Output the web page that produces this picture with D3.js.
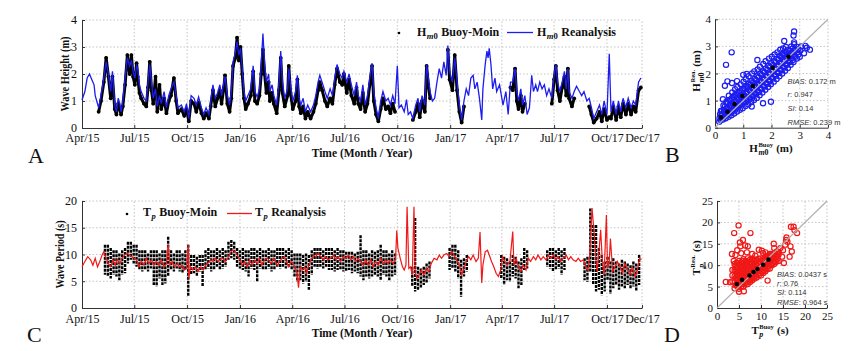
<!DOCTYPE html>
<meta charset="utf-8">
<script src="https://d3js.org/d3.v7.min.js"></script>
<style>
  body { margin: 0; background: #fff; }
  text { font-family: "Liberation Serif", "Times New Roman", serif; fill: #111; }
</style>
<div id="chart"></div>
<script>
// ---- data (days since 1 Apr 2015) ----
var monthTicks = ["2015-04","2015-07","2015-10","2016-01","2016-04","2016-07","2016-10","2017-01","2017-04","2017-07","2017-10","2017-12"];

// Hm0 reanalysis [day, m]
var hRea = [[0,1.04],[5,1.35],[9,1.85],[13,2.0],[17,1.8],[21,1.6],[23,1.2],[27,0.9],[29,0.75],[33,1.2],[38,1.85],[42,2.45],[46,2.0],[50,1.35],[53,2.1],[57,0.85],[60,0.6],[63,1.1],[66,0.9],[68,0.6],[71,1.0],[75,1.85],[79,2.6],[83,2.3],[86,2.5],[89,2.1],[92,1.85],[95,2.3],[97,2.2],[100,1.6],[103,1.35],[108,1.1],[112,1.0],[115,1.7],[118,2.35],[121,1.7],[124,1.1],[128,1.45],[131,0.8],[135,1.2],[138,0.9],[143,1.35],[147,0.75],[151,1.2],[155,1.45],[160,1.7],[164,1.2],[167,0.75],[173,0.85],[178,0.6],[182,0.9],[186,0.35],[190,1.2],[195,1.1],[199,0.85],[203,1.15],[208,0.75],[212,0.5],[216,0.75],[221,0.5],[224,1.0],[228,1.6],[232,1.1],[236,1.3],[240,1.6],[243,1.2],[247,1.7],[249,1.9],[253,1.2],[257,0.85],[260,1.35],[263,2.45],[267,2.8],[270,3.2],[273,2.7],[276,2.95],[279,2.2],[282,1.35],[285,1.0],[289,1.2],[294,1.45],[298,2.3],[301,1.35],[305,1.15],[309,1.45],[312,2.35],[315,3.5],[318,2.35],[321,1.7],[325,2.0],[327,1.35],[331,1.6],[334,1.2],[339,0.85],[343,1.7],[346,2.85],[349,1.7],[353,1.1],[358,1.45],[360,2.2],[363,1.6],[367,1.0],[372,1.35],[375,1.95],[378,1.1],[381,0.85],[385,1.1],[389,0.6],[393,0.85],[398,0.6],[403,0.85],[407,1.2],[411,1.7],[414,1.95],[418,1.7],[423,1.35],[427,1.1],[432,1.45],[436,1.2],[440,1.85],[444,2.35],[449,2.0],[453,1.85],[456,2.1],[461,1.7],[465,2.0],[469,1.6],[474,1.2],[478,1.7],[481,1.2],[485,1.0],[489,1.6],[493,0.85],[497,1.2],[501,1.85],[505,2.4],[508,1.35],[512,0.75],[516,0.35],[520,1.0],[524,1.35],[529,1.0],[533,1.1],[537,0.85],[541,1.2],[545,0.9],[549,2.3],[552,0.75],[556,0.85],[561,0.6],[565,1.05],[568,0.5],[572,0.6],[576,0.35],[581,0.85],[585,1.1],[588,0.6],[592,1.2],[597,0.85],[600,2.35],[603,1.85],[606,1.35],[610,1.0],[614,1.1],[618,1.7],[622,2.2],[626,1.85],[630,2.45],[634,1.95],[637,3.05],[640,2.1],[645,1.7],[649,2.6],[653,1.7],[657,0.85],[661,0.3],[665,1.0],[669,1.45],[673,1.2],[677,1.85],[681,1.95],[684,1.45],[688,1.7],[692,1.1],[696,0.3],[698,1.45],[702,2.35],[705,2.85],[707,2.6],[709,2.95],[712,2.35],[715,1.45],[719,1.85],[722,1.35],[727,1.6],[731,1.1],[733,0.85],[738,1.35],[742,0.5],[746,1.7],[750,1.7],[754,2.2],[757,1.35],[760,1.0],[764,1.45],[767,0.85],[771,1.2],[775,0.5],[779,0.75],[783,1.95],[786,1.35],[790,1.6],[793,1.35],[797,1.7],[801,1.45],[805,1.6],[809,1.2],[813,1.45],[818,1.1],[822,1.95],[825,2.35],[828,1.7],[832,1.35],[836,1.7],[840,2.1],[843,1.45],[846,2.2],[848,1.35],[853,1.1],[857,1.35],[861,1.55],[866,1.35],[870,1.2],[874,1.35],[879,1.0],[883,1.1],[887,0.75],[891,0.35],[896,0.6],[901,0.85],[905,0.5],[909,1.0],[914,0.5],[918,2.75],[921,0.6],[925,1.0],[930,0.5],[934,1.0],[938,0.6],[942,1.1],[947,0.75],[951,1.1],[956,0.75],[960,1.0],[964,0.85],[969,1.7],[973,1.85]];

// Hm0 buoy [day, m]
var hBuoy = [[29,0.6],[33,1.0],[38,1.7],[42,2.6],[46,1.9],[50,1.1],[53,1.9],[57,0.7],[60,0.5],[63,0.9],[66,0.7],[68,0.5],[71,0.8],[75,1.6],[79,2.7],[83,2.0],[86,2.7],[89,1.9],[92,1.6],[95,2.4],[97,1.9],[100,1.3],[103,1.1],[108,0.9],[112,0.8],[115,1.5],[118,2.45],[121,1.4],[124,0.9],[128,1.9],[131,0.6],[135,1.6],[138,0.7],[143,1.1],[147,0.55],[151,1.0],[155,1.2],[160,1.85],[164,1.0],[167,0.55],[173,0.7],[178,0.45],[182,0.7],[186,0.25],[190,1.0],[195,0.9],[199,0.6],[203,0.95],[208,0.55],[212,0.35],[216,0.55],[221,0.35],[224,0.8],[228,1.4],[232,0.8],[236,1.1],[240,1.4],[243,0.9],[247,1.5],[249,1.95],[253,0.9],[257,0.6],[260,1.1],[263,2.3],[267,2.6],[270,3.35],[273,2.5],[276,3.0],[279,2.0],[282,1.1],[285,0.7],[289,0.9],[294,1.2],[298,2.1],[301,1.0],[305,0.9],[309,1.2],[312,2.0],[315,2.9],[318,2.0],[321,1.3],[325,1.7],[327,1.0],[331,1.3],[334,0.9],[339,0.55],[343,1.4],[346,2.6],[349,1.3],[353,0.8],[358,1.2],[360,2.3],[363,1.3],[367,0.7],[372,1.0],[375,1.8],[378,0.8],[381,0.55],[385,0.8],[389,0.35],[393,0.6],[398,0.35],[403,0.6],[407,0.9],[411,1.4],[414,1.7],[418,1.4],[423,1.0],[427,0.8],[432,1.1],[436,0.9],[440,1.6],[444,2.2],[449,1.7],[453,1.6],[456,2.0],[461,1.3],[465,1.8],[469,1.2],[474,0.9],[478,1.5],[481,0.9],[485,0.7],[489,1.3],[493,0.6],[497,0.9],[501,1.6],[505,2.3],[508,1.0],[512,0.5],[516,0.25],[520,0.7],[524,1.1],[529,0.7],[533,0.8],[537,0.55],[541,0.9],[545,0.6],
  [576,0.3],[581,0.6],[585,0.9],[588,0.4],[592,1.0],[597,0.6],[600,2.3],[603,1.6],[606,1.1],
  [637,2.9],[640,1.8],[645,1.4],[649,2.7],[653,1.4],[657,0.6],[661,0.2],[665,0.8],
  [746,1.5],[750,1.4],[754,2.2],[757,1.0],[760,0.7],[764,1.2],[767,0.6],[771,0.9],
  [818,0.9],[822,1.8],[825,2.3],[828,1.4],[832,1.0],[836,1.5],[840,1.9],[843,1.2],[846,2.2],[848,1.1],[853,0.8],[857,1.1],
  [883,0.8],[887,0.5],[891,0.2],[896,0.35],[901,0.6],[905,0.25],[909,0.7],[914,0.3],[918,0.4],[921,0.35],[925,0.8],[930,0.3],[934,0.8],[938,0.4],[942,0.9],[947,0.5],[951,0.9],[956,0.5],[960,0.8],[964,0.6],[969,1.4],[973,1.5]];

// Tp reanalysis [day, s]
var tpRea = [[0,7.7],[5,8.7],[10,9.6],[15,9.0],[19,8.0],[23,9.3],[27,7.7],[31,8.7],[35,9.9],[38,10.5],[42,9.3],[46,8.3],[50,7.7],[54,9.0],[58,8.0],[61,9.0],[66,8.3],[70,9.3],[74,9.9],[79,10.2],[83,9.9],[87,9.6],[91,9.3],[95,9.0],[99,7.7],[103,8.7],[108,8.0],[112,9.3],[116,8.3],[121,9.0],[125,8.0],[129,8.7],[134,8.0],[138,9.0],[143,7.7],[147,8.3],[150,11.9],[153,8.0],[157,8.7],[161,7.7],[166,8.3],[170,7.7],[174,8.0],[178,7.1],[182,7.4],[185,11.8],[186,5.5],[189,7.7],[193,7.1],[197,7.7],[202,6.8],[207,7.7],[211,7.1],[215,8.0],[219,8.3],[224,9.0],[228,8.7],[232,9.3],[237,8.7],[241,9.0],[245,9.3],[249,8.7],[254,9.3],[259,10.5],[263,10.8],[267,10.5],[270,9.9],[275,9.0],[279,8.0],[283,8.7],[288,7.7],[292,9.0],[296,8.0],[301,9.0],[305,8.3],[309,9.3],[313,8.0],[318,9.0],[323,9.3],[329,8.3],[334,9.3],[340,8.0],[346,9.0],[352,9.6],[356,8.7],[360,7.7],[364,8.7],[369,8.0],[374,6.8],[377,3.8],[380,7.7],[384,7.1],[388,7.7],[391,6.5],[395,8.0],[399,9.0],[403,9.9],[407,9.6],[411,10.2],[416,9.6],[420,9.0],[424,9.6],[428,9.0],[433,9.3],[438,9.9],[442,9.0],[446,9.6],[450,8.7],[455,9.6],[459,9.3],[464,9.9],[468,9.0],[472,9.6],[477,8.7],[481,9.3],[485,8.7],[490,8.0],[494,9.0],[498,8.0],[503,9.0],[507,7.7],[511,8.7],[516,8.0],[520,9.3],[525,8.3],[529,9.0],[533,8.3],[537,9.0],[542,8.3],[546,9.3],[548,14.5],[550,11.2],[554,9.3],[558,7.7],[561,7.1],[564,8.0],[566,18.9],[569,7.4],[572,7.7],[575,6.2],[578,18.9],[580,6.8],[583,5.5],[587,6.2],[591,7.1],[595,6.2],[600,7.4],[604,6.8],[608,8.3],[613,9.3],[618,9.0],[622,9.9],[626,9.3],[630,9.9],[635,10.2],[639,9.6],[643,10.5],[646,10.2],[652,9.0],[657,8.0],[661,6.2],[665,7.4],[669,8.7],[673,9.6],[677,9.0],[681,9.9],[686,8.7],[690,9.3],[693,14.2],[696,4.7],[698,8.0],[702,10.5],[706,10.8],[709,9.9],[713,8.7],[717,7.7],[721,6.5],[725,5.9],[729,7.1],[732,9.6],[736,8.7],[740,8.0],[745,8.7],[750,14.3],[752,8.0],[756,9.3],[760,7.7],[764,6.8],[768,8.0],[773,7.1],[777,9.3],[781,8.7],[786,9.6],[790,9.0],[794,9.9],[799,9.0],[803,9.6],[808,9.0],[812,9.9],[816,9.3],[821,9.9],[825,9.0],[829,9.6],[833,8.7],[838,9.3],[843,9.9],[847,9.0],[851,9.6],[855,9.0],[860,8.7],[864,9.3],[868,8.7],[873,9.0],[877,7.7],[881,7.1],[884,9.9],[888,18.7],[892,13.6],[895,8.7],[897,6.8],[901,11.8],[903,14.6],[906,8.7],[909,6.2],[913,17.4],[915,7.4],[918,8.7],[920,13.0],[924,6.8],[928,7.7],[932,8.7],[937,7.7],[941,6.5],[945,8.3],[949,7.4],[954,6.2],[958,7.7],[963,5.9],[967,7.1],[971,9.3],[974,9.0]];

// Tp buoy spread per 5-day bin [day, low, high]
var tpBuoy = [[40,6.2,11.8],[45,5.9,11.8],[50,5.5,11.2],[55,6.2,10.8],[60,5.9,10.8],[65,5.2,10.2],[70,6.2,10.8],[75,6.5,11.2],[80,8.3,12.4],[85,9.0,12.4],[90,8.3,11.8],[95,7.7,11.8],[100,7.1,10.8],[105,6.8,10.8],[110,7.1,10.8],[115,6.8,10.2],[120,7.4,10.8],[125,4.3,10.8],[130,4.0,10.8],[135,5.5,10.2],[140,4.3,10.8],[145,4.6,10.8],[150,5.9,13.3],[155,7.1,10.8],[160,6.8,10.2],[165,7.4,10.8],[170,6.8,10.8],[175,6.5,10.2],[180,7.1,10.8],[185,2.3,11.8],[190,6.2,9.9],[195,6.5,9.9],[200,5.9,9.6],[205,6.8,9.9],[210,4.0,9.9],[215,7.1,10.8],[220,7.4,11.2],[225,6.8,10.8],[230,7.1,10.8],[235,7.7,11.2],[240,7.1,10.8],[245,7.4,11.2],[250,7.7,10.8],[255,9.0,12.4],[260,9.3,12.7],[265,9.0,12.4],[270,7.7,11.2],[275,7.4,10.8],[280,7.1,11.2],[285,6.8,10.8],[290,5.9,10.8],[295,7.4,11.2],[300,7.1,11.2],[305,4.9,10.8],[310,7.4,11.2],[315,7.1,10.8],[320,7.1,10.8],[325,7.4,11.2],[330,6.8,10.8],[335,7.1,10.8],[340,7.7,11.2],[345,7.4,11.2],[350,7.7,11.2],[355,7.4,10.8],[360,7.7,11.2],[365,7.1,10.8],[370,5.9,10.2],[375,4.9,10.2],[380,5.2,10.2],[385,4.6,9.9],[390,4.9,10.2],[395,3.4,9.9],[400,6.2,10.8],[405,7.7,11.2],[410,7.4,11.2],[415,7.7,11.2],[420,7.4,10.8],[425,7.7,11.2],[430,7.1,11.2],[435,7.1,11.2],[440,6.8,10.8],[445,7.1,11.2],[450,7.1,10.8],[455,6.8,10.8],[460,6.8,10.5],[465,7.1,10.5],[470,6.5,10.5],[475,6.8,10.2],[480,6.5,10.5],[485,5.9,13.6],[490,5.2,10.8],[495,5.9,10.8],[500,5.5,10.2],[505,5.9,10.8],[510,6.2,10.5],[515,5.9,10.8],[520,5.2,11.8],[525,6.2,10.8],[530,5.9,10.8],[535,5.2,10.2],[540,5.9,10.8],[545,6.2,10.2],
  [575,4.0,7.7],[580,3.1,16.8],[585,3.4,7.7],[590,3.7,7.4],[595,4.3,7.7],[600,4.6,8.3],[605,5.5,8.7],
  [640,7.1,11.2],[645,7.4,11.8],[650,6.8,11.8],[655,5.5,10.8],[660,2.1,9.0],[665,5.9,9.3],[670,6.8,9.9],
  [730,5.5,9.9],[735,4.3,9.6],[740,5.2,9.3],[745,4.9,8.7],[750,5.9,9.9],[755,5.5,9.6],[760,3.7,8.7],[765,4.3,9.3],[770,7.1,11.2],[775,7.4,10.8],
  [810,7.7,10.8],[815,7.4,11.2],[820,6.8,11.2],[825,7.1,10.8],[830,7.4,11.2],[835,6.2,10.8],[840,7.1,11.2],
  [875,5.2,9.3],[880,4.9,9.6],[885,6.8,18.6],[890,4.3,15.5],[895,3.1,15.5],[900,3.4,11.2],[905,2.4,9.9],[910,3.1,8.7],[915,5.2,9.6],[920,2.6,8.7],[925,3.7,9.3],[930,4.3,8.7],[935,3.4,8.3],[940,4.0,9.0],[945,3.7,8.7],[950,4.3,8.3],[955,3.7,8.0],[960,4.0,8.7],[965,3.1,8.3],[970,4.3,9.9]];

// scatter Hm0: [buoy, reanalysis]
var scatH = [[0.15,0.22],[0.16,0.35],[0.18,0.5],[0.2,0.28],[0.22,0.45],[0.21,0.62],[0.28,0.3],[0.3,0.48],[0.32,0.66],[0.3,0.82],[0.38,0.35],[0.4,0.55],[0.42,0.75],[0.4,0.95],[0.48,0.4],[0.5,0.6],[0.52,0.82],[0.5,1.02],[0.49,1.18],[0.58,0.46],[0.6,0.68],[0.62,0.9],[0.6,1.1],[0.61,1.3],[0.68,0.52],[0.7,0.75],[0.72,0.98],[0.7,1.2],[0.71,1.42],[0.78,0.6],[0.8,0.82],[0.82,1.05],[0.8,1.28],[0.79,1.5],[0.88,0.66],[0.9,0.9],[0.92,1.12],[0.9,1.35],[0.91,1.6],[0.98,0.72],[1.0,0.98],[1.02,1.2],[1.0,1.45],[1.01,1.7],[1.08,0.8],[1.1,1.05],[1.12,1.3],[1.1,1.55],[1.09,1.8],[1.18,0.86],[1.2,1.12],[1.22,1.38],[1.2,1.62],[1.19,1.9],[1.28,0.95],[1.3,1.2],[1.32,1.46],[1.3,1.72],[1.31,2.0],[1.38,1.02],[1.4,1.28],[1.42,1.55],[1.4,1.8],[1.39,2.08],[1.48,1.1],[1.5,1.36],[1.52,1.62],[1.5,1.9],[1.51,2.15],[1.58,1.2],[1.6,1.45],[1.62,1.72],[1.6,2.0],[1.59,2.25],[1.68,1.3],[1.7,1.55],[1.72,1.8],[1.7,2.08],[1.71,2.35],[1.78,1.4],[1.8,1.65],[1.82,1.9],[1.8,2.18],[1.79,2.45],[1.88,1.5],[1.9,1.75],[1.92,2.0],[1.9,2.28],[1.91,2.55],[1.98,1.6],[2.0,1.85],[2.02,2.1],[2.0,2.38],[2.01,2.62],[2.08,1.7],[2.1,1.95],[2.12,2.2],[2.1,2.45],[2.11,2.7],[2.18,1.8],[2.2,2.05],[2.22,2.3],[2.2,2.55],[2.21,2.78],[2.28,1.9],[2.3,2.15],[2.32,2.4],[2.3,2.65],[2.31,2.88],[2.38,2.0],[2.4,2.25],[2.42,2.5],[2.4,2.72],[2.41,2.92],[2.48,2.1],[2.5,2.35],[2.52,2.6],[2.5,2.8],[2.51,2.98],[2.58,2.2],[2.6,2.45],[2.62,2.68],[2.6,2.88],[2.68,2.32],[2.7,2.55],[2.72,2.78],[2.7,3.0],[2.78,2.42],[2.8,2.65],[2.82,2.88],[2.8,3.08],[2.9,2.55],[2.92,2.78],[2.9,2.98],[3.0,2.62],[3.02,2.85],[3.05,3.0],[3.15,2.75],[3.25,2.95],[3.36,2.88],[3.2,3.02],
  [0.25,0.35],[0.25,0.5],[0.25,0.62],[0.35,0.42],[0.35,0.6],[0.35,0.78],[0.45,0.5],[0.45,0.7],[0.45,0.9],[0.55,0.56],[0.55,0.8],[0.55,1.02],[0.65,0.64],[0.65,0.88],[0.65,1.12],[0.75,0.72],[0.75,0.96],[0.75,1.22],[0.85,0.8],[0.85,1.04],[0.85,1.3],[0.95,0.86],[0.95,1.1],[0.95,1.38],[1.05,0.94],[1.05,1.18],[1.05,1.45],[1.15,1.0],[1.15,1.26],[1.15,1.52],[1.25,1.08],[1.25,1.34],[1.25,1.6],[1.35,1.16],[1.35,1.42],[1.35,1.68],[1.45,1.24],[1.45,1.5],[1.45,1.76],[1.55,1.32],[1.55,1.58],[1.55,1.86],[1.65,1.42],[1.65,1.68],[1.65,1.95],[1.75,1.52],[1.75,1.78],[1.75,2.05],[1.85,1.62],[1.85,1.88],[1.85,2.14],[1.95,1.72],[1.95,1.98],[1.95,2.24],[2.05,1.82],[2.05,2.08],[2.05,2.32],[2.15,1.92],[2.15,2.18],[2.15,2.42],[2.25,2.02],[2.25,2.28],[2.25,2.52],[2.35,2.12],[2.35,2.38],[2.35,2.6],[2.45,2.22],[2.45,2.46],[2.45,2.7],[2.55,2.32],[2.55,2.55],[2.55,2.78],[2.65,2.42],[2.65,2.64],[2.65,2.84],[2.75,2.5],[2.75,2.72],[2.75,2.92],[2.85,2.62],[2.85,2.84],[2.95,2.7],[2.95,2.9],
  [0.59,2.78],[0.39,2.32],[0.44,1.71],[0.35,1.55],[0.6,1.65],[0.78,1.72],[1.12,1.98],[1.0,1.95],[1.7,0.9],[1.98,0.96],[2.8,3.55],[2.78,3.4],[2.8,3.15],[2.45,3.2],[1.5,2.5],[0.28,1.05],[1.3,0.78]];
var binH = [[0.21,0.38],[0.44,0.59],[0.69,0.87],[0.97,1.17],[1.34,1.54],[2.04,2.21],[2.6,2.62]];
var statsH = [["BIAS", "0.172 m"], ["r", "0.947"], ["SI", "0.14"], ["RMSE", "0.239 m"]];

// scatter Tp: [buoy, reanalysis]
var scatT = [[3.5,6.2],[3.5,7.6],[3.5,8.9],[4.0,4.6],[4.0,6.0],[4.0,7.4],[4.0,8.8],[4.0,10.3],[4.5,5.2],[4.5,6.6],[4.5,8.0],[4.5,9.4],[4.5,10.6],[5.0,4.5],[5.0,5.9],[5.0,7.3],[5.0,8.7],[5.0,10.1],[5.0,11.0],[5.5,5.1],[5.5,6.5],[5.5,7.9],[5.5,9.3],[5.5,10.6],[6.0,5.0],[6.0,6.2],[6.0,7.6],[6.0,9.0],[6.0,10.4],[6.0,11.4],[6.5,5.5],[6.5,6.9],[6.5,8.3],[6.5,9.7],[6.5,11.0],[7.0,5.6],[7.0,6.6],[7.0,8.0],[7.0,9.4],[7.0,10.8],[7.0,11.6],[7.5,6.1],[7.5,7.3],[7.5,8.7],[7.5,10.1],[7.5,11.3],[8.0,6.5],[8.0,7.6],[8.0,9.0],[8.0,10.4],[8.0,11.5],[8.5,6.9],[8.5,8.2],[8.5,9.6],[8.5,11.0],[9.0,7.1],[9.0,8.5],[9.0,9.9],[9.0,11.3],[9.5,7.6],[9.5,8.9],[9.5,10.3],[9.5,11.5],[10.0,7.6],[10.0,9.0],[10.0,10.4],[10.0,11.6],[10.5,8.2],[10.5,9.6],[10.5,11.0],[11.0,8.6],[11.0,9.8],[11.0,11.2],[11.0,12.1],[11.5,9.1],[11.5,10.4],[11.5,11.6],[12.0,9.2],[12.0,10.6],[12.0,11.8],[12.0,12.6],[12.5,10.0],[12.5,11.3],[12.5,12.4],[13.0,10.3],[13.0,11.6],[13.0,12.8],[13.5,10.8],[13.5,12.1],[14.0,11.0],[14.0,12.5],[14.0,13.1],
  [4.25,5.3],[4.25,7.0],[4.25,8.6],[4.25,9.9],[4.75,5.0],[4.75,6.3],[4.75,7.7],[4.75,9.1],[4.75,10.4],[5.25,5.5],[5.25,6.9],[5.25,8.3],[5.25,9.8],[5.75,5.7],[5.75,7.1],[5.75,8.5],[5.75,9.9],[5.75,11.0],[6.25,5.8],[6.25,7.3],[6.25,8.7],[6.25,10.0],[6.75,6.2],[6.75,7.6],[6.75,9.0],[6.75,10.4],[7.25,6.4],[7.25,7.9],[7.25,9.2],[7.25,10.5],[7.75,6.8],[7.75,8.1],[7.75,9.4],[7.75,10.7],[8.25,7.2],[8.25,8.6],[8.25,9.9],[8.25,11.2],[8.75,7.6],[8.75,8.9],[8.75,10.2],[8.75,11.3],[9.25,7.9],[9.25,9.3],[9.25,10.6],[9.75,8.2],[9.75,9.5],[9.75,10.8],[10.25,8.5],[10.25,9.9],[10.25,11.2],[10.75,8.9],[10.75,10.2],[10.75,11.5],[11.25,9.4],[11.25,10.6],[11.25,11.8],[11.75,9.8],[11.75,11.0],[11.75,12.2],[12.25,10.2],[12.25,11.4],[12.25,12.6],[12.75,10.6],[12.75,11.9],[13.25,11.0],[13.25,12.4],[13.75,11.5],[13.75,12.6],
  [3.0,6.0],[2.0,6.1],[6.1,3.9],[11.5,6.4],[4.9,19.3],[3.9,17.5],[7.6,17.5],[5.2,15.3],[5.9,15.9],[6.4,14.6],[7.0,14.4],[5.3,14.4],[3.4,12.6],[4.2,12.4],[12.9,15.0],[15.7,15.9],[16.8,19.0],[17.4,19.0],[17.6,18.2],[18.2,17.5],[15.5,14.8],[16.7,14.4],[17.0,13.2],[16.5,12.0],[15.2,10.5],[14.4,14.0],[13.6,13.2],[12.1,11.3],[8.7,12.2],[9.5,13.6],[10.2,13.4],[11.0,13.0],[12.5,12.4],[15.0,13.5],[14.8,12.0],[16.0,15.5],[5.5,12.8],[6.8,13.0],[4.6,13.5],[10.5,12.8],[8.0,12.6],[3.8,11.0],[5.0,3.8],[15.8,16.5],[13.0,14.0]];
var binT = [[4.5,5.6],[5.7,6.6],[7.4,7.6],[8.3,8.4],[9.2,9.1],[10.5,10.1],[11.7,11.3]];
var statsT = [["BIAS", "0.0437 s"], ["r", "0.76"], ["SI", "0.114"], ["RMSE", "0.964 s"]];

// ---- drawing ----
var W = 867, H = 351;
var svg = d3.select("#chart").append("svg").attr("width", W).attr("height", H);
svg.append("rect").attr("width", W).attr("height", H).attr("fill", "#fff");

var start = new Date(2015, 3, 1);
function dd(d) { return d3.timeDay.offset(start, d); }
var parseM = d3.timeParse("%Y-%m");
var tickDates = monthTicks.map(parseM);
var x = d3.scaleTime().domain([start, new Date(2017, 11, 1)]).range([82, 642]);

var gridColor = "#c4c4c4";
var BLUE = "#1c1cf0", RED = "#f01818";

// label with sub/superscript, e.g. H_m0^Buoy (m)
function mathLabel(parent, tx, ty, angle, fs, main, sub, sup, tail, anchor) {
  var g = parent.append("g").attr("transform", "translate(" + tx + "," + ty + ") rotate(" + angle + ")");
  var inner = g.append("g");
  var cx = 0;
  var m = inner.append("text").attr("font-size", fs).attr("font-weight", "bold").text(main);
  cx += m.node().getComputedTextLength();
  var sw = 0;
  if (sub) {
    var s = inner.append("text").attr("x", cx + 0.5).attr("y", fs * 0.32)
      .attr("font-size", fs * 0.72).attr("font-weight", "bold");
    s.append("tspan").attr("font-style", "italic").text(sub[0]);
    if (sub.length > 1) s.append("tspan").text(sub.slice(1));
    sw = s.node().getComputedTextLength() + 0.5;
  }
  if (sup) {
    var p = inner.append("text").attr("x", cx + 0.5).attr("y", -fs * 0.45)
      .attr("font-size", fs * 0.6).attr("font-weight", "bold").text(sup);
    sw = Math.max(sw, p.node().getComputedTextLength() + 0.5);
  }
  cx += sw;
  if (tail) {
    var t = inner.append("text").attr("x", cx + fs * 0.28).attr("font-size", fs).attr("font-weight", "bold").text(tail);
    cx += fs * 0.28 + t.node().getComputedTextLength();
  }
  if (anchor === "middle") inner.attr("transform", "translate(" + (-cx / 2) + ",0)");
  return g;
}

function styleAxis(a, fs) {
  a.selectAll("text").attr("font-size", fs).attr("fill", "#111");
  a.select(".domain").attr("stroke", "#333");
  a.selectAll(".tick line").attr("stroke", "#333");
}

function timePanel(y, yTicks, yTitle, yTitleX, yTitleLen, axisPad) {
  var g = svg.append("g");
  var y0 = y.range()[0], y1 = y.range()[1];
  g.selectAll(".vg").data(tickDates.slice(1)).enter().append("line")
    .attr("x1", function(d) { return x(d); }).attr("x2", function(d) { return x(d); })
    .attr("y1", y0).attr("y2", y1)
    .attr("stroke", gridColor).attr("stroke-dasharray", "1.5,2");
  g.selectAll(".hg").data(yTicks.slice(1)).enter().append("line")
    .attr("x1", x.range()[0]).attr("x2", x.range()[1])
    .attr("y1", function(d) { return y(d); }).attr("y2", function(d) { return y(d); })
    .attr("stroke", gridColor).attr("stroke-dasharray", "1.5,2");
  var xa = g.append("g").attr("transform", "translate(0," + y0 + ")")
    .call(d3.axisBottom(x).tickValues(tickDates).tickFormat(d3.timeFormat("%b/%y"))
      .tickSizeInner(-3).tickSizeOuter(0).tickPadding(axisPad));
  var ya = g.append("g").attr("transform", "translate(" + x.range()[0] + ",0)")
    .call(d3.axisLeft(y).tickValues(yTicks).tickFormat(d3.format("d"))
      .tickSizeInner(-3).tickSizeOuter(0).tickPadding(5));
  styleAxis(xa, 12); styleAxis(ya, 12);
  g.append("text").attr("x", 362).attr("y", y0 + 29).attr("text-anchor", "middle")
    .attr("font-size", 11.5).attr("font-weight", "bold").text("Time (Month / Year)");
  g.append("text").attr("transform", "translate(" + yTitleX + "," + ((y0 + y1) / 2) + ") rotate(-90)")
    .attr("text-anchor", "middle").attr("font-size", 11.5).attr("font-weight", "bold")
    .attr("textLength", yTitleLen).attr("lengthAdjust", "spacingAndGlyphs").text(yTitle);
  return g;
}

// ---------- Panel A ----------
var yA = d3.scaleLinear().domain([0, 4]).range([128, 20]);
var gA = timePanel(yA, [0, 1, 2, 3, 4], "Wave Height (m)", 69, 75, 5.5);
var lineA = d3.line().x(function(d) { return x(dd(d[0])); }).y(function(d) { return yA(d[1]); });
// split buoy record where the gauge has gaps
function segments(arr) {
  var out = [], cur = [];
  arr.forEach(function(d, i) {
    if (i > 0 && d[0] - arr[i - 1][0] > 12) { out.push(cur); cur = []; }
    cur.push(d);
  });
  out.push(cur);
  return out;
}
gA.selectAll(".bseg").data(segments(hBuoy)).enter().append("path")
  .attr("d", lineA).attr("fill", "none").attr("stroke", "#000").attr("stroke-width", 3).attr("stroke-linejoin", "round");
gA.selectAll(".bdot").data(hBuoy).enter().append("circle")
  .attr("cx", function(d) { return x(dd(d[0])); }).attr("cy", function(d) { return yA(d[1]); })
  .attr("r", 1.9).attr("fill", "#000");
gA.append("path").datum(hRea).attr("d", lineA).attr("fill", "none").attr("stroke", BLUE).attr("stroke-width", 1.3);

// legend A
gA.append("circle").attr("cx", 399).attr("cy", 33).attr("r", 1.3).attr("fill", "#000");
mathLabel(gA, 417, 35.5, 0, 12, "H", "m0", null, "Buoy-Moin");
gA.append("line").attr("x1", 507).attr("x2", 533).attr("y1", 32.5).attr("y2", 32.5).attr("stroke", BLUE).attr("stroke-width", 1.3);
mathLabel(gA, 537, 35.5, 0, 12, "H", "m0", null, "Reanalysis");

// ---------- Panel C ----------
var yC = d3.scaleLinear().domain([0, 20]).range([308, 201]);
var gC = timePanel(yC, [0, 5, 10, 15, 20], "Wave Period (s)", 64, 68, 6);
gC.selectAll(".tb").data(tpBuoy).enter().append("line")
  .attr("x1", function(d) { return x(dd(d[0])); }).attr("x2", function(d) { return x(dd(d[0])); })
  .attr("y1", function(d) { return yC(d[2]); }).attr("y2", function(d) { return yC(d[1]); })
  .attr("stroke", "#000").attr("stroke-width", 2.4).attr("stroke-dasharray", "3,1");
var lineC = d3.line().x(function(d) { return x(dd(d[0])); }).y(function(d) { return yC(d[1]); });
gC.append("path").datum(tpRea).attr("d", lineC).attr("fill", "none").attr("stroke", RED).attr("stroke-width", 1.2);

gC.append("circle").attr("cx", 127).attr("cy", 214).attr("r", 1.3).attr("fill", "#000");
mathLabel(gC, 143, 215.5, 0, 12, "T", "p", null, "Buoy-Moin");
gC.append("line").attr("x1", 227).attr("x2", 252).attr("y1", 213.5).attr("y2", 213.5).attr("stroke", RED).attr("stroke-width", 1.3);
mathLabel(gC, 255, 215.5, 0, 12, "T", "p", null, "Reanalysis");

// ---------- scatter panels ----------
function scatterPanel(sx, sy, ticks, pts, bins, color, stats, statsX, statsY, statsDy) {
  var g = svg.append("g");
  var x0 = sx.range()[0], x1 = sx.range()[1], y0 = sy.range()[0], y1 = sy.range()[1];
  g.selectAll(".vg").data(ticks.slice(1)).enter().append("line")
    .attr("x1", function(d) { return sx(d); }).attr("x2", function(d) { return sx(d); })
    .attr("y1", y0).attr("y2", y1).attr("stroke", gridColor).attr("stroke-dasharray", "1.5,2");
  g.selectAll(".hg").data(ticks.slice(1)).enter().append("line")
    .attr("y1", function(d) { return sy(d); }).attr("y2", function(d) { return sy(d); })
    .attr("x1", x0).attr("x2", x1).attr("stroke", gridColor).attr("stroke-dasharray", "1.5,2");
  var xa = g.append("g").attr("transform", "translate(0," + y0 + ")")
    .call(d3.axisBottom(sx).tickValues(ticks).tickFormat(d3.format("d")).tickSizeInner(-3).tickSizeOuter(0).tickPadding(4));
  var ya = g.append("g").attr("transform", "translate(" + x0 + ",0)")
    .call(d3.axisLeft(sy).tickValues(ticks).tickFormat(d3.format("d")).tickSizeInner(-3).tickSizeOuter(0).tickPadding(4));
  styleAxis(xa, 11); styleAxis(ya, 11);
  g.selectAll(".pt").data(pts).enter().append("circle")
    .attr("cx", function(d) { return sx(d[0]); }).attr("cy", function(d) { return sy(d[1]); })
    .attr("r", 2.6).attr("fill", "none").attr("stroke", color).attr("stroke-width", 1.2);
  var dom = sx.domain();
  g.append("line").attr("x1", sx(dom[0])).attr("y1", sy(dom[0])).attr("x2", sx(dom[1])).attr("y2", sy(dom[1]))
    .attr("stroke", "#b0b0b0").attr("stroke-width", 1.2);
  g.selectAll(".bin").data(bins).enter().append("circle")
    .attr("cx", function(d) { return sx(d[0]); }).attr("cy", function(d) { return sy(d[1]); })
    .attr("r", 2.3).attr("fill", "#000");
  stats.forEach(function(s, i) {
    var t = g.append("text").attr("x", statsX).attr("y", statsY + i * statsDy)
      .style("font-family", "'Liberation Sans', Arial, sans-serif").style("font-size", "7.5px").style("fill", "#333");
    t.append("tspan").style("font-style", "italic").text(s[0]);
    t.append("tspan").text(": " + s[1]);
  });
  return g;
}

var sxB = d3.scaleLinear().domain([0, 4]).range([715, 828]);
var syB = d3.scaleLinear().domain([0, 4]).range([127.7, 19.3]);
var gB = scatterPanel(sxB, syB, [0, 1, 2, 3, 4], scatH, binH, BLUE, statsH, 787.5, 83.5, 13.8);
mathLabel(gB, 771, 151.5, 0, 11, "H", "m0", "Buoy", "(m)", "middle");
mathLabel(gB, 700, 71, -90, 11, "H", "m0", "Rea.", "(m)", "middle");

var sxD = d3.scaleLinear().domain([0, 25]).range([717, 827]);
var syD = d3.scaleLinear().domain([0, 25]).range([308, 201]);
var gD = scatterPanel(sxD, syD, [0, 5, 10, 15, 20, 25], scatT, binT, RED, statsT, 777, 276.8, 9.3);
mathLabel(gD, 770, 333.5, 0, 11, "T", "p", "Buoy", "(s)", "middle");
mathLabel(gD, 700, 258, -90, 11, "T", "p", "Rea.", "(s)", "middle");

// panel letters
[["A", 28, 163], ["B", 665, 162], ["C", 27, 342], ["D", 664, 342]].forEach(function(l) {
  svg.append("text").attr("x", l[1]).attr("y", l[2]).attr("font-size", 22).text(l[0]);
});
</script>
